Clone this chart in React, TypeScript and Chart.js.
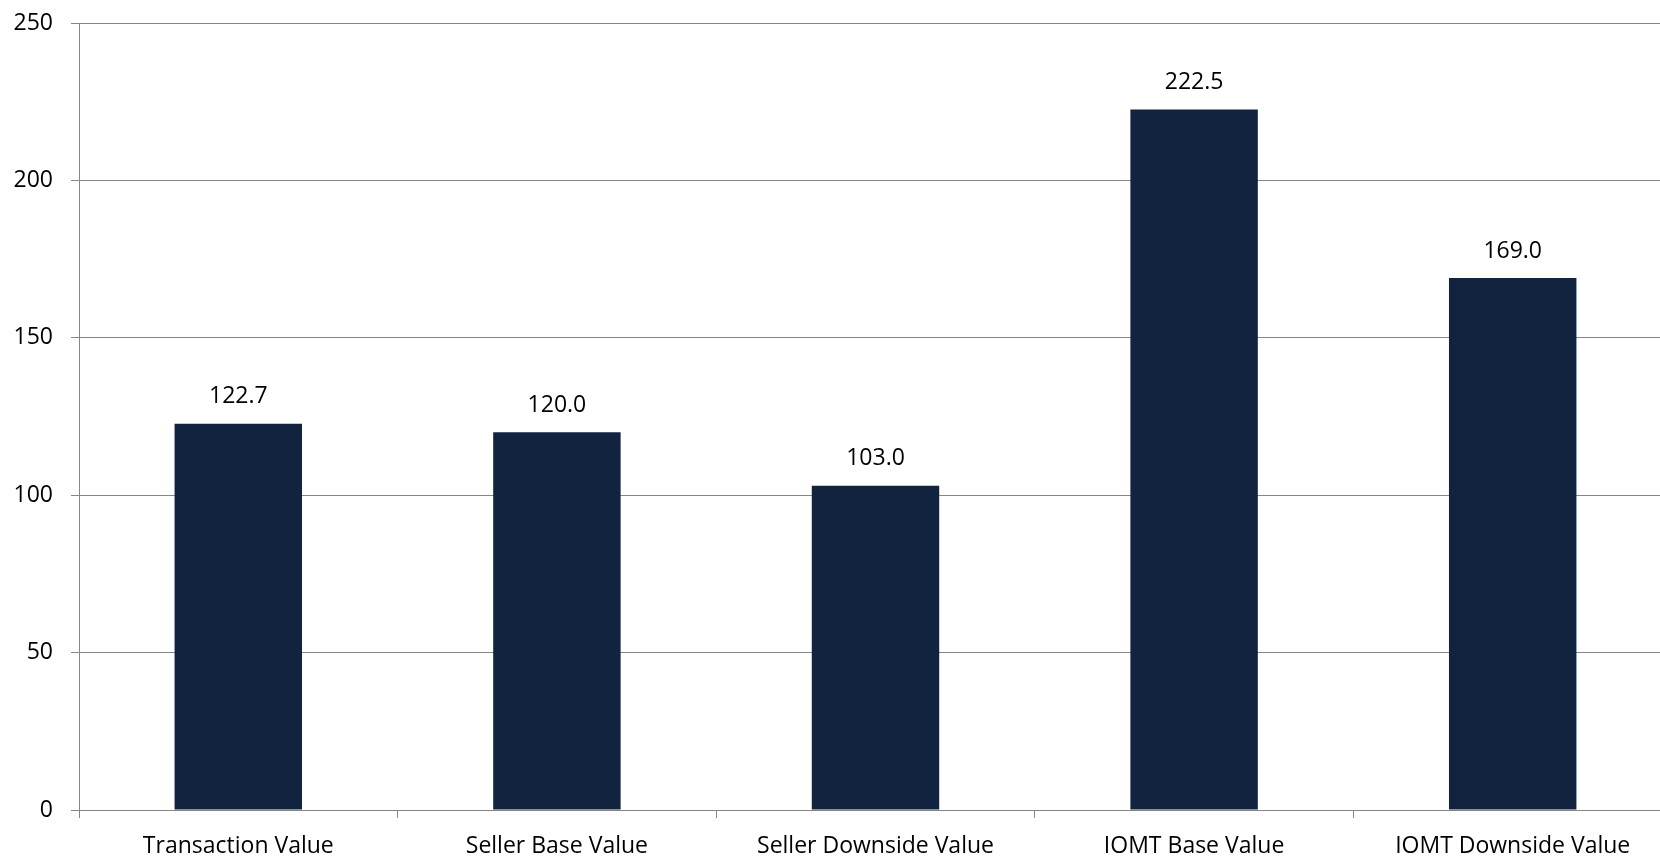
import React, { useEffect, useRef } from "react";
import { Chart, registerables } from "chart.js";

Chart.register(...registerables);

const categories = [
  "Transaction Value",
  "Seller Base Value",
  "Seller Downside Value",
  "IOMT Base Value",
  "IOMT Downside Value",
];
const values = [122.7, 120.0, 103.0, 222.5, 169.0];
const yTicks = [0, 50, 100, 150, 200, 250];

const FONT = "'Open Sans', sans-serif";

const valueLabels = {
  id: "valueLabels",
  afterDatasetsDraw(chart: any) {
    const ctx = chart.ctx;
    const meta = chart.getDatasetMeta(0);
    ctx.save();
    ctx.font = `23px ${FONT}`;
    ctx.fillStyle = "#000000";
    ctx.textAlign = "center";
    ctx.textBaseline = "middle";
    meta.data.forEach((bar: any, i: number) => {
      ctx.fillText(values[i].toFixed(1), bar.x, bar.y - 27);
    });
    ctx.restore();
  },
};

export default function App() {
  const ref = useRef<HTMLCanvasElement>(null);
  useEffect(() => {
    if (!ref.current) return;
    const chart = new Chart(ref.current, {
      type: "bar",
      data: {
        labels: categories,
        datasets: [
          {
            data: values,
            backgroundColor: "#122340",
            borderWidth: 0,
            barPercentage: 0.4,
            categoryPercentage: 1,
          },
        ],
      },
      options: {
        responsive: false,
        animation: false,
        devicePixelRatio: 1,
        layout: { padding: { top: 23, left: 0, right: 0, bottom: 0 } },
        plugins: {
          legend: { display: false },
          tooltip: { enabled: false },
        },
        scales: {
          x: {
            afterFit(scale: any) {
              scale.height = 47;
              scale.paddingLeft = 0;
              scale.paddingRight = 0;
            },
            grid: {
              display: true,
              drawOnChartArea: false,
              drawTicks: true,
              tickLength: 8,
              color: "#868686",
              lineWidth: 1,
              offset: true,
            },
            border: { display: true, color: "#868686", width: 1 },
            ticks: {
              color: "#000000",
              font: { family: FONT, size: 23 },
              padding: 15,
              maxRotation: 0,
              autoSkip: false,
            },
          },
          y: {
            min: 0,
            max: 250,
            afterFit(scale: any) {
              scale.width = 79;
              scale.paddingTop = 0;
              scale.paddingBottom = 0;
            },
            afterBuildTicks(scale: any) {
              scale.ticks = yTicks.map((v) => ({ value: v }));
            },
            grid: {
              color: "#868686",
              lineWidth: 1,
              tickLength: 8,
              drawTicks: true,
            },
            border: { display: true, color: "#868686", width: 1 },
            ticks: {
              color: "#000000",
              font: { family: FONT, size: 23 },
              padding: 18,
            },
          },
        },
      },
      plugins: [valueLabels],
    });
    return () => chart.destroy();
  }, []);
  return (
    <div
      style={{
        position: "fixed",
        left: 0,
        top: 0,
        width: 1660,
        height: 857,
        overflow: "hidden",
        background: "#ffffff",
      }}
    >
      <canvas ref={ref} width={1672} height={857} style={{ display: "block" }} />
    </div>
  );
}
